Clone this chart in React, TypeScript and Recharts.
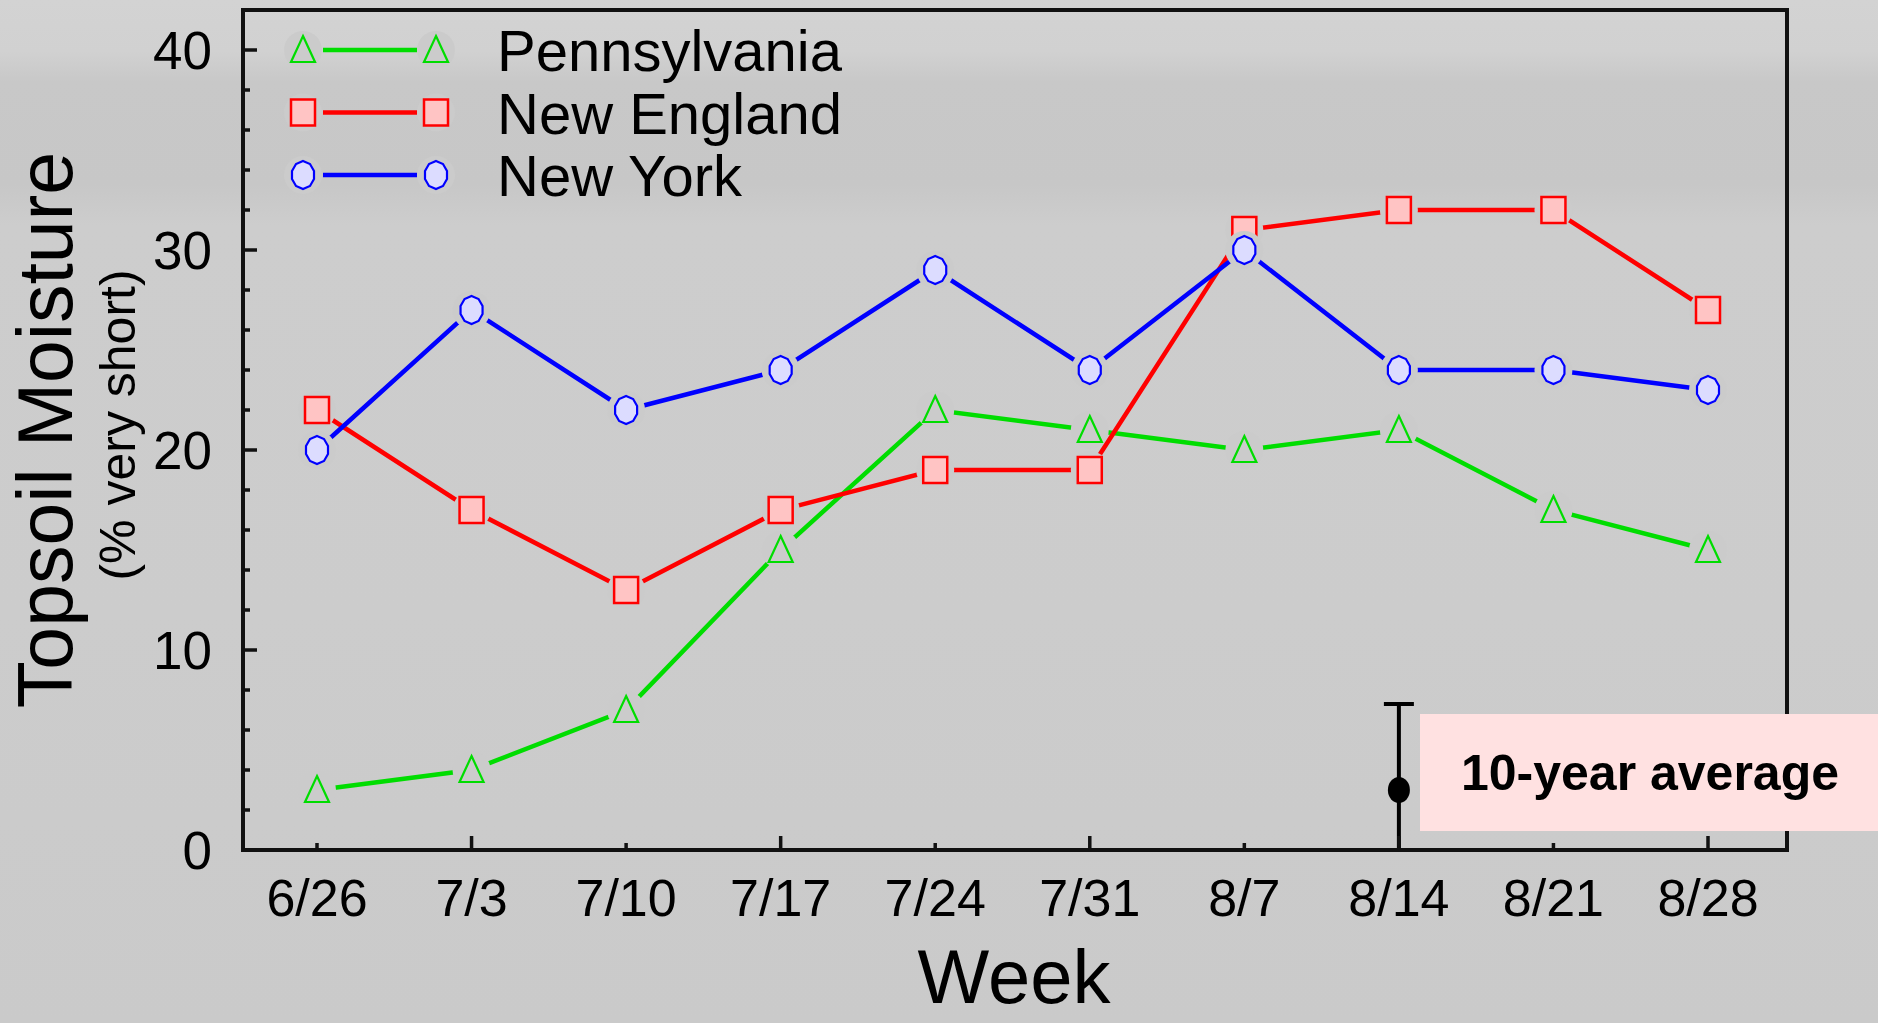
import React from 'react';
import { LineChart, Line, XAxis, YAxis, Legend, ErrorBar, Label } from 'recharts';

const weeks = ['6/26', '7/3', '7/10', '7/17', '7/24', '7/31', '8/7', '8/14', '8/21', '8/28'];
const pennsylvania = [3, 4, 7, 15, 22, 21, 20, 21, 17, 15];
const newEngland = [22, 17, 13, 17, 19, 19, 31, 32, 32, 27];
const newYork = [20, 27, 22, 24, 29, 24, 30, 24, 24, 23];
const seriesNames = ['Pennsylvania', 'New England', 'New York'];

// 10-year average shown as a single point with an error bar
const avgWeek = '8/14';
const avgValue = 3;
const avgError = [3, 4.3];

const yTicks = [0, 2, 4, 6, 8, 10, 12, 14, 16, 18, 20, 22, 24, 26, 28, 30, 32, 34, 36, 38, 40];
const yLabelTicks = [0, 10, 20, 30, 40];

const data = weeks.map((week, i) => ({
    week,
    pa: pennsylvania[i],
    ne: newEngland[i],
    ny: newYork[i],
    avg: week === avgWeek ? avgValue : null,
    avgErr: week === avgWeek ? avgError : undefined,
}));

const FONT = '"Liberation Sans", Arial, sans-serif';
const GREEN = '#00dd00';
const RED = '#ff0000';
const BLUE = '#0000ff';
const HALO = '#cbcbcb';
const frameStyle = { stroke: '#111', strokeWidth: 4, strokeLinecap: 'square' as const };

const TriangleDot = ({ cx, cy }: any) => {
    if (cx == null || cy == null) return <g />;
    return (
        <g>
            <circle cx={cx} cy={cy} r={19} fill={HALO} />
            <polygon
                points={`${cx},${cy - 14} ${cx + 12},${cy + 12} ${cx - 12},${cy + 12}`}
                fill="none"
                stroke={GREEN}
                strokeWidth={2.2}
            />
        </g>
    );
};

const SquareDot = ({ cx, cy }: any) => {
    if (cx == null || cy == null) return <g />;
    return (
        <g>
            <circle cx={cx} cy={cy} r={19} fill={HALO} />
            <rect x={cx - 12} y={cy - 13} width={24} height={26} fill="#ffc4c4" stroke={RED} strokeWidth={2.5} />
        </g>
    );
};

const HexDot = ({ cx, cy }: any) => {
    if (cx == null || cy == null) return <g />;
    const pts = [
        [0, -14], [7, -11], [11, -4], [11, 4], [7, 11], [0, 14],
        [-7, 11], [-11, 4], [-11, -4], [-7, -11],
    ].map(([dx, dy]) => `${cx + dx},${cy + dy}`).join(' ');
    return (
        <g>
            <circle cx={cx} cy={cy} r={19} fill={HALO} />
            <polygon points={pts} fill="#dcdcff" stroke={BLUE} strokeWidth={2.2} />
        </g>
    );
};

const AvgDot = ({ cx, cy }: any) => {
    if (cx == null || cy == null) return <g />;
    return <ellipse cx={cx} cy={cy} rx={11} ry={13} fill="#000" />;
};

const markerFor: Record<string, any> = {
    Pennsylvania: TriangleDot,
    'New England': SquareDot,
    'New York': HexDot,
};

const renderLegend = (props: any) => {
    const items = (props.payload || [])
        .filter((p: any) => markerFor[p.value])
        .sort((a: any, b: any) => seriesNames.indexOf(a.value) - seriesNames.indexOf(b.value));
    return (
        <svg width={600} height={210} style={{ overflow: 'visible' }}>
            {items.map((item: any, i: number) => {
                const cy = 40 + i * 62.5;
                const Marker = markerFor[item.value];
                return (
                    <g key={item.value}>
                        <line x1={43} x2={137} y1={cy} y2={cy} stroke={item.color} strokeWidth={4.5} />
                        <Marker cx={23} cy={cy} />
                        <Marker cx={156} cy={cy} />
                        <text x={217} y={cy + 21} fontSize={58} fontFamily={FONT} fill="#000">
                            {item.value}
                        </text>
                    </g>
                );
            })}
        </svg>
    );
};

const YTick = ({ x, y, payload }: any) => {
    const v = payload.value;
    const major = yLabelTicks.includes(v);
    return (
        <g>
            <line x1={x} x2={x + (major ? 14 : 7)} y1={y} y2={y} stroke="#111" strokeWidth={3.5} />
            {major && (
                <text x={x - 31} y={y} dy="0.36em" textAnchor="end" fontSize={53} fontFamily={FONT} fill="#000">
                    {v}
                </text>
            )}
        </g>
    );
};

const XTick = ({ x, y, payload, index }: any) => {
    const long = index % 2 === 1;
    return (
        <g>
            <line x1={x} x2={x} y1={y} y2={y - (long ? 14 : 7)} stroke="#111" strokeWidth={3.5} />
            <text x={x} y={y + 66} textAnchor="middle" fontSize={52} fontFamily={FONT} fill="#000">
                {payload.value}
            </text>
        </g>
    );
};

const YTitle = (props: any) => {
    const vb = props.viewBox || { x: 242, y: 10, width: 1, height: 840 };
    const ax = vb.x + (vb.width || 0);
    const cy = vb.y + vb.height / 2;
    return (
        <g fontFamily={FONT} fill="#000">
            <text transform={`translate(${ax - 171},${cy}) rotate(-90)`} textAnchor="middle" fontSize={77}>
                Topsoil Moisture
            </text>
            <text transform={`translate(${ax - 108},${cy - 5}) rotate(-90)`} textAnchor="middle" fontSize={50}>
                (% very short)
            </text>
        </g>
    );
};

const XTitle = (props: any) => {
    const vb = props.viewBox || { x: 243, y: 850, width: 1544 };
    return (
        <text x={vb.x + vb.width / 2 - 1} y={vb.y + 153} textAnchor="middle" fontSize={76} fontFamily={FONT} fill="#000">
            Week
        </text>
    );
};

export default function App() {
    return (
        <div
            style={{
                position: 'absolute',
                left: 0,
                top: 0,
                width: 1878,
                height: 1023,
                overflow: 'hidden',
                background:
                    'linear-gradient(to bottom, #d3d3d3 0%, #d1d1d1 5%, #c8c8c8 8%, #c7c7c7 18%, #cdcdcd 22%, #cccccc 60%, #cacaca 100%)',
            }}
        >
            <LineChart
                width={1878}
                height={1023}
                data={data}
                margin={{ top: 9, right: 90, bottom: 172, left: 242 }}
            >
                <XAxis
                    dataKey="week"
                    height={1}
                    tickSize={0}
                    tickMargin={0}
                    tickLine={false}
                    tick={<XTick />}
                    axisLine={frameStyle}
                    padding={{ left: 74, right: 79 }}
                    interval={0}
                >
                    <Label content={<XTitle />} />
                </XAxis>
                <XAxis
                    xAxisId="top"
                    orientation="top"
                    dataKey="week"
                    height={1}
                    tick={false}
                    tickLine={false}
                    axisLine={frameStyle}
                    padding={{ left: 74, right: 79 }}
                />
                <YAxis
                    domain={[0, 42]}
                    ticks={yTicks}
                    width={1}
                    tickSize={0}
                    tickMargin={0}
                    tickLine={false}
                    tick={<YTick />}
                    axisLine={frameStyle}
                    interval={0}
                >
                    <Label content={<YTitle />} />
                </YAxis>
                <YAxis
                    yAxisId="right"
                    orientation="right"
                    domain={[0, 42]}
                    width={1}
                    tick={false}
                    tickLine={false}
                    axisLine={frameStyle}
                />
                <Legend
                    layout="vertical"
                    align="center"
                    verticalAlign="middle"
                    content={renderLegend}
                    wrapperStyle={{ left: 280, top: 10, width: 600, height: 210 }}
                />
                <Line
                    xAxisId="top"
                    yAxisId="right"
                    dataKey="ne"
                    stroke="none"
                    dot={false}
                    activeDot={false}
                    legendType="none"
                    isAnimationActive={false}
                />
                <Line
                    dataKey="pa"
                    name="Pennsylvania"
                    stroke={GREEN}
                    strokeWidth={4.5}
                    dot={(p: any) => <TriangleDot key={`pa-${p.index}`} {...p} />}
                    activeDot={false}
                    isAnimationActive={false}
                />
                <Line
                    dataKey="ne"
                    name="New England"
                    stroke={RED}
                    strokeWidth={4.5}
                    dot={(p: any) => <SquareDot key={`ne-${p.index}`} {...p} />}
                    activeDot={false}
                    isAnimationActive={false}
                />
                <Line
                    dataKey="ny"
                    name="New York"
                    stroke={BLUE}
                    strokeWidth={4.5}
                    dot={(p: any) => <HexDot key={`ny-${p.index}`} {...p} />}
                    activeDot={false}
                    isAnimationActive={false}
                />
                <Line
                    dataKey="avg"
                    name="10-year average"
                    stroke="none"
                    legendType="none"
                    dot={(p: any) => <AvgDot key={`avg-${p.index}`} {...p} />}
                    activeDot={false}
                    isAnimationActive={false}
                >
                    <ErrorBar dataKey="avgErr" direction="y" width={15} strokeWidth={4} stroke="#000" />
                </Line>
            </LineChart>
            <div
                style={{
                    position: 'absolute',
                    left: 1420,
                    top: 714,
                    width: 458,
                    height: 117,
                    background: '#ffe1e1',
                }}
            >
                <svg width={458} height={117}>
                    <text x={230} y={76} textAnchor="middle" fontSize={50} fontWeight="bold" fontFamily={FONT} fill="#000">
                        10-year average
                    </text>
                </svg>
            </div>
        </div>
    );
}
